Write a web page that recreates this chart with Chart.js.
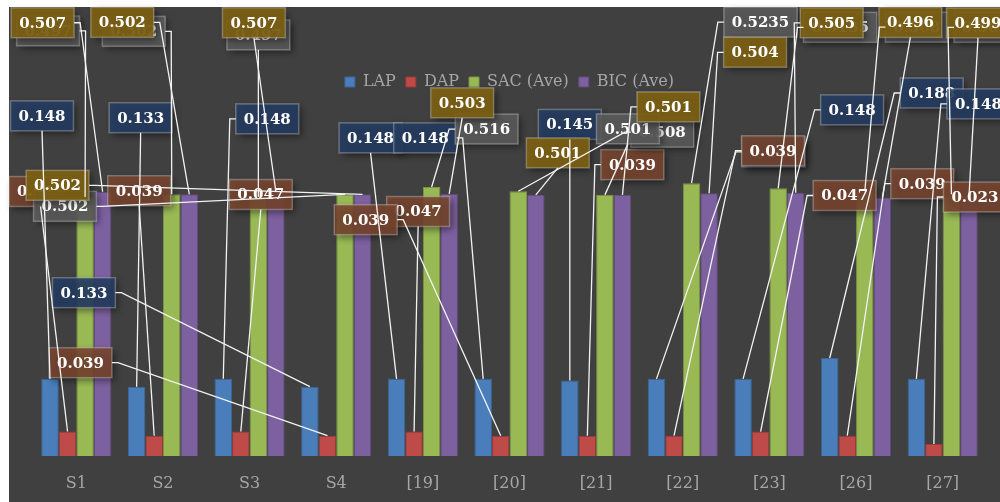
<!DOCTYPE html>
<html lang="en">
<head>
    <meta charset="UTF-8">
    <title>LAP / DAP / SAC / BIC</title>
    <script src="https://cdn.jsdelivr.net/npm/chart.js"></script>
    <style>
        body {
            margin: 0;
            background: #ffffff;
        }
        .chart-box {
            position: relative;
            width: 1000px;
            height: 502px;
        }
    </style>
</head>
<body>
    <div class="chart-box">
        <canvas id="mainChart" width="1000" height="502"></canvas>
    </div>

    <script>
        // values
        var categories = ['S1', 'S2', 'S3', 'S4', '[19]', '[20]', '[21]', '[22]', '[23]', '[26]', '[27]'];
        var lapValues = [0.148, 0.133, 0.148, 0.133, 0.148, 0.148, 0.145, 0.148, 0.148, 0.188, 0.148];
        var dapValues = [0.047, 0.039, 0.047, 0.039, 0.047, 0.039, 0.039, 0.039, 0.047, 0.039, 0.023];
        var sacValues = [0.497, 0.502, 0.497, 0.502, 0.516, 0.508, 0.501, 0.5235, 0.5135, 0.508, 0.502];
        var bicValues = [0.507, 0.502, 0.507, 0.502, 0.503, 0.501, 0.501, 0.504, 0.505, 0.496, 0.499];
        var seriesNames = ['LAP', 'DAP', 'SAC (Ave)', 'BIC (Ave)'];

        // where each data label sits, relative to the top of its bar (px)
        var labelOffsets = [
            [[-8, -263], [4, -269], [44, -260], [-226, -94], [-26, -241], [-58, -241], [0, -256], [117, -227], [109, -269], [102, -265], [62, -275]],
            [[-27, -240], [-15, -245], [20, -237], [-247, -73], [4, -220], [-135, -216], [45, -271], [99, -285], [84, -236], [75, -252], [41, -247]],
            [[-37, -166], [-38, -163], [0, -162], [-280, 12], [55, -58], [144, -59], [23, -66], [69, -161], [62, -161], [52, -164], [34, -167]],
            [[-60, -169], [-67, -172], [-22, -169], [-305, -9], [13, -91], [22, -42], [46, -88], [46, -141], [36, -170], [28, -175], [9, -173]]
        ];
        var labelFills = ['rgba(37,61,98,0.88)', 'rgba(120,70,48,0.88)', 'rgba(92,92,92,0.88)', 'rgba(126,98,18,0.9)'];

        // dark plot background + data labels with leader lines
        var leaderLabels = {
            id: 'leaderLabels',
            beforeDraw: function (chart) {
                var ctx = chart.ctx;
                ctx.save();
                ctx.fillStyle = '#404040';
                ctx.fillRect(9, 7, chart.width - 9, chart.height - 7);
                ctx.restore();
            },
            afterDatasetsDraw: function (chart) {
                var ctx = chart.ctx;
                var links = [];
                ctx.save();
                ctx.font = 'bold 15px "DejaVu Serif"';
                ctx.textAlign = 'center';
                ctx.textBaseline = 'middle';
                chart.data.datasets.forEach(function (ds, di) {
                    var meta = chart.getDatasetMeta(di);
                    meta.data.forEach(function (bar, i) {
                        var off = labelOffsets[di][i];
                        var text = String(ds.data[i]);
                        var w = ctx.measureText(text).width + 16;
                        var h = 30;
                        var cx = bar.x + off[0];
                        var cy = bar.y + off[1];
                        ctx.save();
                        ctx.shadowColor = 'rgba(0,0,0,0.55)';
                        ctx.shadowBlur = 7;
                        ctx.shadowOffsetX = 3;
                        ctx.shadowOffsetY = 3;
                        ctx.fillStyle = labelFills[di];
                        ctx.fillRect(cx - w / 2, cy - h / 2, w, h);
                        ctx.restore();
                        ctx.strokeStyle = 'rgba(255,255,255,0.28)';
                        ctx.lineWidth = 1.5;
                        ctx.strokeRect(cx - w / 2, cy - h / 2, w, h);
                        ctx.fillStyle = '#ffffff';
                        ctx.fillText(text, cx, cy + 1);
                        links.push({ cx: cx, cy: cy, w: w, h: h, bx: bar.x, by: bar.y });
                    });
                });
                // leader lines
                ctx.strokeStyle = '#f2f2f2';
                ctx.lineWidth = 1.3;
                links.forEach(function (l) {
                    var dx = l.bx - l.cx;
                    var dy = l.by - l.cy;
                    if (Math.abs(dx) < 4 && Math.abs(dy) < l.h / 2 + 4) return;
                    ctx.beginPath();
                    if (Math.abs(dx) <= l.w / 2 && dy > 0) {
                        ctx.moveTo(l.cx, l.cy + l.h / 2);
                    } else {
                        var side = dx > 0 ? 1 : -1;
                        var sx = l.cx + side * l.w / 2;
                        ctx.moveTo(sx, l.cy);
                        ctx.lineTo(sx + side * 6, l.cy);
                    }
                    ctx.lineTo(l.bx, l.by);
                    ctx.stroke();
                });
                ctx.restore();
            }
        };

        var barColors = ['#4a7ebb', '#be4b48', '#98b954', '#7d60a0'];
        var barBorders = ['#3a6598', '#9a3936', '#7a9543', '#63497f'];
        var seriesValues = [lapValues, dapValues, sacValues, bicValues];

        var datasets = seriesNames.map(function (name, k) {
            return {
                label: name,
                data: seriesValues[k],
                backgroundColor: barColors[k],
                borderColor: barBorders[k],
                borderWidth: 1,
                categoryPercentage: 0.81,
                barPercentage: 1.0
            };
        });

        var mainChart = new Chart(document.getElementById('mainChart').getContext('2d'), {
            type: 'bar',
            data: {
                labels: categories,
                datasets: datasets
            },
            options: {
                responsive: false,
                animation: false,
                layout: {
                    padding: { left: 33, right: 14, top: 64, bottom: 0 }
                },
                plugins: {
                    tooltip: { enabled: false },
                    legend: {
                        position: 'top',
                        labels: {
                            color: '#a6a6a6',
                            boxWidth: 10,
                            boxHeight: 10,
                            padding: 10,
                            font: { family: '"DejaVu Serif"', size: 16 }
                        }
                    }
                },
                scales: {
                    x: {
                        grid: { display: false },
                        border: { display: false },
                        ticks: {
                            color: '#a6a6a6',
                            padding: 10,
                            font: { family: '"DejaVu Serif"', size: 16 }
                        },
                        afterFit: function (axis) {
                            axis.height = 46;
                        }
                    },
                    y: {
                        display: false,
                        min: 0,
                        max: 0.683
                    }
                }
            },
            plugins: [leaderLabels]
        });
    </script>
</body>
</html>
